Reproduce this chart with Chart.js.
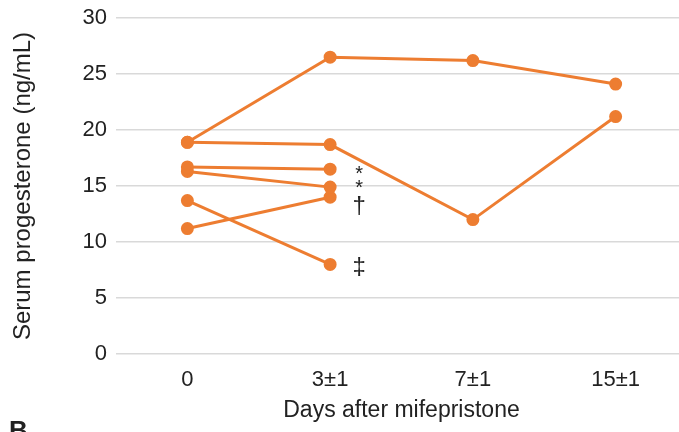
<!DOCTYPE html>
<html>
<head>
<meta charset="utf-8">
<script src="https://cdn.jsdelivr.net/npm/chart.js@4/dist/chart.umd.min.js"></script>
<style>
    html, body { margin: 0; padding: 0; background: #fff; overflow: hidden; }
    #wrap { position: relative; width: 679px; height: 432px; overflow: hidden; }
    #box { position: absolute; left: 0; top: 0; width: 695px; height: 432px; }
    #panel { position: absolute; left: 9px; top: 415px; font: bold 26px "Liberation Sans", Arial, sans-serif; color: #222; }
</style>
</head>
<body>
<div id="wrap">
    <div id="box"><canvas id="chart"></canvas></div>
    <div id="panel">B</div>
</div>
<script>
const days = ['0', '3±1', '7±1', '15±1'];

// one line per patient
const patient1 = [18.9, 26.5, 26.2, 24.1];
const patient2 = [18.9, 18.7, 12.0, 21.2];
const patient3 = [16.7, 16.5, null, null];
const patient4 = [16.3, 14.9, null, null];
const patient5 = [11.2, 14.0, null, null];
const patient6 = [13.7, 8.0, null, null];

// significance marks next to the 3±1 points
const markLabels = ['*', '*', '†', '‡'];
const markValues = [16.0, 14.8, 13.2, 7.7];

const orange = '#ED7D31';
const font = '"Liberation Sans", Arial, sans-serif';

const series = [patient1, patient2, patient3, patient4, patient5, patient6];
const datasets = series.map(values => ({
    data: values,
    borderColor: orange,
    backgroundColor: orange,
    borderWidth: 3,
    pointRadius: 5,
    pointHoverRadius: 5,
    tension: 0
}));

const marksPlugin = {
    id: 'marks',
    afterDatasetsDraw(chart) {
        let ctx = chart.ctx;
        let x = chart.scales.x.getPixelForValue(1) + 29;
        ctx.save();
        ctx.fillStyle = '#222';
        ctx.textAlign = 'center';
        ctx.textBaseline = 'middle';
        for (let i = 0; i < markLabels.length; i++) {
            let y = chart.scales.y.getPixelForValue(markValues[i]);
            ctx.font = (markLabels[i] === '*' ? '20px ' : '24px ') + font;
            ctx.fillText(markLabels[i], x, y);
        }
        ctx.restore();
    }
};

let ctx = document.getElementById('chart').getContext('2d');
new Chart(ctx, {
    type: 'line',
    data: {
        labels: days,
        datasets: datasets
    },
    options: {
        responsive: true,
        maintainAspectRatio: false,
        animation: false,
        layout: { padding: { top: 18, right: 5, left: 0, bottom: 0 } },
        plugins: {
            legend: { display: false },
            tooltip: { enabled: false }
        },
        scales: {
            x: {
                offset: true,
                grid: { display: false },
                border: { display: false },
                ticks: { color: '#222', font: { family: font, size: 22 }, padding: 5 },
                title: {
                    display: true,
                    text: 'Days after mifepristone',
                    color: '#222',
                    font: { family: font, size: 23 },
                    padding: { top: 0, bottom: 8 }
                },
                afterFit: scale => { scale.height = 78; }
            },
            y: {
                min: 0,
                max: 30,
                ticks: { stepSize: 5, color: '#222', font: { family: font, size: 22 }, padding: 9 },
                grid: { color: '#d9d9d9', lineWidth: 1.5, drawTicks: false },
                border: { display: false },
                title: {
                    display: true,
                    text: 'Serum progesterone (ng/mL)',
                    color: '#222',
                    font: { family: font, size: 24 },
                    padding: { top: 9, bottom: 0 }
                },
                afterFit: scale => {
                    scale.width = 116;
                    scale.paddingTop = 0;
                    scale.paddingBottom = 0;
                }
            }
        }
    },
    plugins: [marksPlugin]
});
</script>
</body>
</html>
